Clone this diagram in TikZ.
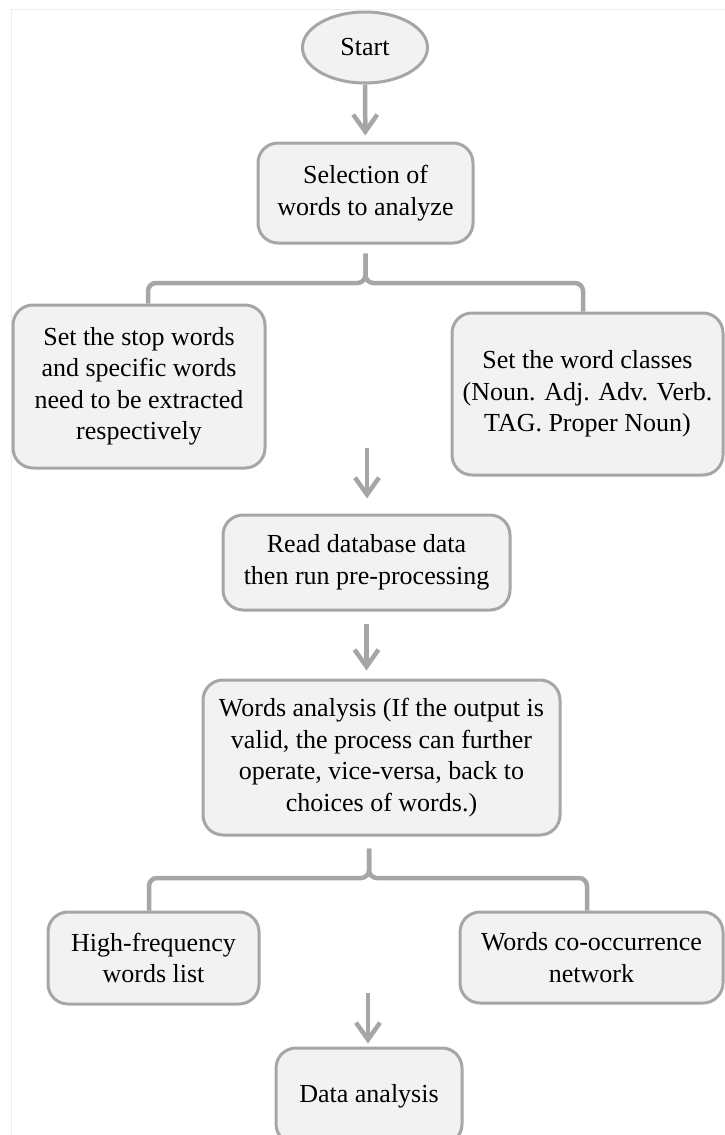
\documentclass[tikz,border=0pt]{standalone}
\usepackage{fontspec}
\setmainfont{Liberation Serif}
\usetikzlibrary{arrows.meta}
\usetikzlibrary{shapes.geometric}
\definecolor{boxfill}{HTML}{F2F2F2}
\definecolor{boxline}{HTML}{A6A6A6}
\definecolor{framegray}{HTML}{EEEEEE}
\tikzset{
	>={Straight Barb[length=17pt,width=24pt]},
	stepbox/.style={
		rectangle,
		rounded corners=20pt,
		fill=boxfill,
		draw=boxline, line width=3pt,
		inner sep=0pt,
		align=center,
		font=\fontsize{26}{31.5}\selectfont},
	startoval/.style={
		ellipse,
		fill=boxfill,
		draw=boxline, line width=3pt,
		inner sep=0pt,
		font=\fontsize{26}{31.5}\selectfont},
	arrowline/.style={draw=boxline, line width=4.5pt, ->},
	braceline/.style={draw=boxline, line width=4.5pt, rounded corners=8pt},
}
\begin{document}
\begin{tikzpicture}[x=1pt, y=-1pt]
	\useasboundingbox (0,0) rectangle (725,1135);
	% faint frame of the page
	\draw[framegray, line width=1pt] (11.5,1135) -- (11.5,9) -- (725,9);
	\node[startoval, minimum width=125pt, minimum height=71pt] (start) at (365,47.5) {Start};
	\node[stepbox, minimum width=215pt, minimum height=100pt] (select) at (365.5,193) {Selection of\\words to analyze};
	\node[stepbox, minimum width=252pt, minimum height=163pt] (stopwords) at (139,386.5) {Set the stop words\\and specific words\\need to be extracted\\respectively};
	\node[stepbox, minimum width=271pt, minimum height=162pt] (classes) at (587.5,394) {Set the word classes\\(Noun. Adj. Adv. Verb.\\TAG. Proper Noun)};
	\node[stepbox, minimum width=287pt, minimum height=95pt] (readdata) at (366.5,562.5) {Read database data\\then run pre-processing};
	\node[stepbox, minimum width=357pt, minimum height=155pt] (analysis) at (381.5,757.5) {Words analysis (If the output is\\valid, the process can further\\operate, vice-versa, back to\\choices of words.)};
	\node[stepbox, minimum width=211pt, minimum height=92pt] (highfreq) at (153.5,958) {High-frequency\\words list};
	\node[stepbox, minimum width=263pt, minimum height=91pt] (cooccur) at (591.5,957.5) {Words co-occurrence\\network};
	\node[stepbox, minimum width=186pt, minimum height=96pt] (dataana) at (369,1096) {Data analysis};

	\draw[arrowline, shorten >=6pt] (start) -- (select);
	% upper split
	\coordinate (topstem) at ([yshift=-9pt]select.south);
	\coordinate (topbar) at (365.5,283);
	\draw[braceline] (topstem) -- (topbar) -| ([xshift=9pt]stopwords.north);
	\draw[braceline] (topstem) -- (topbar) -| ([xshift=-4.5pt]classes.north);
	\coordinate (midarrow) at (367,448);
	\draw[arrowline, shorten >=15pt] (midarrow) -- (midarrow |- readdata.north);
	\draw[arrowline, shorten <=12pt, shorten >=8pt] (readdata.south) -- (readdata.south |- analysis.north);
	% lower split
	\coordinate (lowstem) at ([xshift=-12.5pt,yshift=-12pt]analysis.south);
	\coordinate (lowbar) at (369,878);
	\draw[braceline] (lowstem) -- (lowbar) -| ([xshift=-4.5pt]highfreq.north);
	\draw[braceline] (lowstem) -- (lowbar) -| ([xshift=-4.5pt]cooccur.north);
	\coordinate (lowarrow) at (368,993);
	\draw[arrowline, shorten >=3pt] (lowarrow) -- (lowarrow |- dataana.north);
\end{tikzpicture}
\end{document}
